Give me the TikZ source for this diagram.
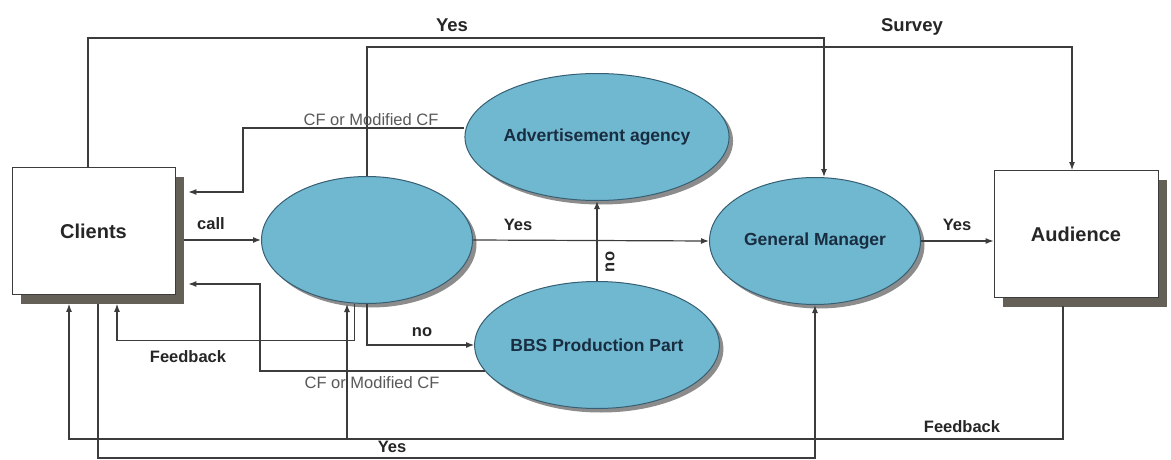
\documentclass[tikz,border=0pt]{standalone}
\usepackage{fontspec}
\setmainfont{Liberation Sans}
\usepackage{tikz}
\usetikzlibrary{shapes.geometric, arrows.meta, shadows}
\usepackage{xcolor}
\definecolor{bubblecolor}{RGB}{112,184,208}
\definecolor{bubbleline}{RGB}{55,95,115}
\definecolor{bubbletext}{RGB}{25,45,65}
\definecolor{boxshade}{RGB}{100,96,88}
\definecolor{linecolor}{RGB}{60,60,60}

\begin{document}
\begin{tikzpicture}[
    x=1pt, y=-1pt,
    >={Latex[length=8pt,width=6pt]},
    party/.style={rectangle, draw=linecolor, line width=0.8pt, fill=white, minimum width=163pt, minimum height=127pt, font=\fontsize{20}{24}\selectfont\bfseries, text=black!85, drop shadow={shadow xshift=9pt, shadow yshift=-9pt, fill=boxshade, opacity=1}},
    bubble/.style={ellipse, draw=bubbleline, line width=1pt, fill=bubblecolor, minimum width=211pt, minimum height=127pt, inner sep=0pt, font=\fontsize{17.5}{20}\selectfont\bfseries, text=bubbletext, drop shadow={shadow xshift=4pt, shadow yshift=-4pt, fill=black!45, opacity=1}},
    link/.style={line width=1.2pt, draw=linecolor},
    tag/.style={font=\fontsize{16.5}{20}\selectfont\bfseries, text=black!85, inner sep=1pt},
    bigtag/.style={tag, font=\fontsize{18.5}{22}\selectfont\bfseries},
    cftag/.style={font=\fontsize{16.5}{20}\selectfont, text=black!65, inner sep=1pt}
]
\fill[white] (0,0) rectangle (1171,460);
\useasboundingbox (0,0) rectangle (1171,460);

\node[party] (clients) at (93.5,231) {Clients};
\node[party, minimum width=164pt] (audience) at (1076,234) {Audience};
\node[bubble] (hub) at (367,240) {};
\node[bubble] (agency) at (597,137) {Advertisement agency};
\node[bubble] (bbs) at (597,345) {BBS Production Part};
\node[bubble] (gm) at (815,241) {General Manager};

% top lines
\draw[link, ->] ([xshift=-5.5pt]clients.north) -- ++(0,-129) -| ([xshift=9pt]gm.north);
\draw[link, ->] (hub.north) -- ++(0,-129) -| ([xshift=-4pt]audience.north);
\node[bigtag] (yestop) at (452,25) {Yes};
\node[bigtag] (survey) at (912,27) {Survey};

% CF back to the clients
\draw[link, ->] ([yshift=9pt]agency.west) -| (243,192) -- ([shift={(13pt,39pt)}]clients.east);
\draw[link, ->] (bbs.193) -| (260,284) -- ([shift={(13pt,-53pt)}]clients.east);
\node[cftag] (cfup) at (371,120) {CF or Modified CF};
\node[cftag] (cfdown) at (372,383) {CF or Modified CF};

% middle row
\draw[link, ->] ([shift={(9pt,-9pt)}]clients.east) -- (hub.west);
\draw[link, ->] (hub.east) -- (gm.west);
\draw[link, ->] (gm.east) -- (gm.east -| audience.west);
\draw[link, ->] (bbs.north) -- (agency.south);
\draw[link, ->] (hub.south) |- (bbs.west);
\node[tag] (call) at (211,224) {call};
\node[tag] (yesmid) at (518,225) {Yes};
\node[tag] (yesaud) at (957,225) {Yes};
\node[tag, rotate=90] (noup) at (610,262) {no};
\node[tag] (nodown) at (422,332) {no};

% feedback loops
\draw[link, ->] (hub.259) -- ++(0,37) -| ([shift={(23.5pt,-9pt)}]clients.south);
\draw[link, ->] ([shift={(-13pt,-8pt)}]audience.south) -- ++(0,133) -| ([shift={(-24.5pt,-9pt)}]clients.south);
\coordinate (fbjoin) at (347,438.5);
\draw[link, ->] (fbjoin) -- (fbjoin |- hub.south);
\draw[link, ->] ([shift={(4.5pt,-9pt)}]clients.south) -- ++(0,154) -| (gm.south);
\node[tag] (fbclients) at (188,357) {Feedback};
\node[tag] (fbaud) at (962,427) {Feedback};
\node[tag] (yesbot) at (392,447) {Yes};
\end{tikzpicture}
\end{document}
